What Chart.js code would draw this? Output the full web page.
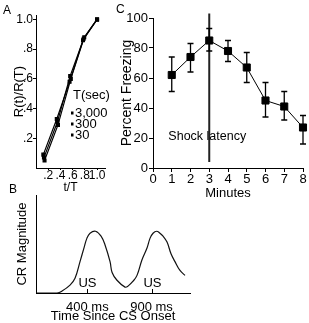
<!DOCTYPE html>
<html>
<head>
<meta charset="utf-8">
<script src="https://cdn.jsdelivr.net/npm/chart.js@4.4.1/dist/chart.umd.min.js"></script>
<style>
body { margin: 0; background: #fff; }
#wrap { position: relative; width: 309px; height: 323px; overflow: hidden; background: #fff;
        font-family: "Liberation Sans", Arial, sans-serif; color: #000; }
canvas { position: absolute; }
.panel { position: absolute; font-size: 12px; line-height: 12px; }
</style>
</head>
<body>
<div id="wrap">
  <canvas id="chartA" width="112" height="194" style="left:0;top:0"></canvas>
  <canvas id="chartB" width="200" height="138" style="left:0;top:185px"></canvas>
  <canvas id="chartC" width="199" height="200" style="left:110px;top:0"></canvas>
  <span class="panel" style="left:3px;top:4px">A</span>
  <span class="panel" style="left:9px;top:183px">B</span>
  <span class="panel" style="left:116px;top:3px">C</span>
</div>
<script>
// Panel A: R(t)/R(T) vs t/T for three T values
const seriesNames = ['3,000', '300', '30'];
const tOverT = [
    [0.13, 0.35, 0.56, 0.78, 1.0],
    [0.12, 0.34, 0.55, 0.77, 1.0],
    [0.14, 0.36, 0.57, 0.79, 1.0]
];
const rRatio = [
    [0.07, 0.31, 0.62, 0.87, 1.0],
    [0.09, 0.33, 0.58, 0.86, 1.0],
    [0.05, 0.29, 0.60, 0.88, 1.0]
];
const aTicks = [0.2, 0.4, 0.6, 0.8, 1.0];
const aTickLabels = ['.2', '.4', '.6', '.8', '1.0'];

// Panel B: CR magnitude vs time since CS onset
const timeMs = [0, 164, 203, 265, 304, 343, 374, 397, 421, 464, 507, 538, 577, 593, 631, 694, 717, 756, 787, 826, 865, 889, 912, 940, 966, 990, 1021, 1052, 1083, 1122, 1161];
const crMag = [0, 0, 0.02, 0.08, 0.15, 0.32, 0.46, 0.56, 0.61, 0.63, 0.58, 0.49, 0.32, 0.21, 0.13, 0.06, 0.07, 0.12, 0.18, 0.34, 0.46, 0.56, 0.61, 0.63, 0.61, 0.58, 0.52, 0.40, 0.32, 0.23, 0.18];
const usTimes = [400, 900];
const usTickLabels = ['400 ms', '900 ms'];

// Panel C: percent freezing by minute
const minutes = [1, 2, 3, 4, 5, 6, 7, 8];
const freezing = [62, 74, 85, 78, 67, 45, 41, 27];
const errUpper = [74, 83, 93, 85, 77, 57, 51, 35];
const errLower = [51, 64, 78, 71, 57, 34, 32, 16];
const shockMinute = 3;
const shockSpan = [4, 103];
const cTicksX = [0, 1, 2, 3, 4, 5, 6, 7, 8];
const cTicksY = [0, 20, 40, 60, 80, 100];

const FONT = '"Liberation Sans", Arial, sans-serif';
Chart.defaults.font.family = FONT;
Chart.defaults.color = '#000';

function setTicks(values) {
    return function (scale) {
        scale.ticks = values.map(v => ({ value: v }));
    };
}

// ---- A ----
const legendA = {
    id: 'legendA',
    afterDraw(chart) {
        const ctx = chart.ctx;
        ctx.save();
        ctx.fillStyle = '#000';
        ctx.font = '13px ' + FONT;
        ctx.textBaseline = 'middle';
        ctx.fillText('T(sec)', 73, 95);
        chart.data.datasets.forEach((ds, i) => {
            const y = 113 + i * 11;
            ctx.fillRect(71, y - 1.5, 2.5, 3);
            ctx.fillText(ds.label, 75, y);
        });
        ctx.restore();
    }
};

new Chart(document.getElementById('chartA'), {
    type: 'line',
    data: {
        datasets: seriesNames.map((name, i) => ({
            label: name,
            data: tOverT[i].map((x, j) => ({ x: x, y: rRatio[i][j] })),
            borderColor: '#000',
            backgroundColor: '#000',
            borderWidth: 1.2,
            pointStyle: 'rect',
            pointRadius: 2,
            tension: 0
        }))
    },
    options: {
        responsive: false,
        animation: false,
        layout: { padding: { left: 13, right: 7, top: 15, bottom: 0 } },
        plugins: { legend: { display: false }, tooltip: { enabled: false } },
        scales: {
            x: {
                type: 'linear', min: 0, max: 1.13,
                afterBuildTicks: setTicks(aTicks),
                afterFit: s => { s.height = 26; },
                ticks: { autoSkip: false, maxRotation: 0, padding: 0, font: { size: 12, lineHeight: 1 },
                    callback: (v, i) => aTickLabels[i] },
                grid: { drawOnChartArea: false, tickLength: 2, color: '#000' },
                border: { color: '#000' },
                title: { display: true, text: 't/T', padding: 0, font: { size: 12, lineHeight: 1 } }
            },
            y: {
                min: 0, max: 1.03,
                afterBuildTicks: setTicks(aTicks),
                afterFit: s => { s.width = 23; },
                ticks: { padding: 0, font: { size: 12, lineHeight: 1 },
                    callback: (v, i) => aTickLabels[i] },
                grid: { drawOnChartArea: false, tickLength: 3, color: '#000' },
                border: { color: '#000' },
                title: { display: true, text: 'R(t)/R(T)', padding: 0, font: { size: 13, lineHeight: 1 } }
            }
        }
    },
    plugins: [legendA]
});

// ---- B ----
const usMarks = {
    id: 'usMarks',
    afterDraw(chart) {
        const ctx = chart.ctx;
        const xs = chart.scales.x;
        const bottom = chart.chartArea.bottom;
        ctx.save();
        ctx.strokeStyle = '#000';
        ctx.lineWidth = 1;
        ctx.fillStyle = '#000';
        ctx.font = '13px ' + FONT;
        ctx.textAlign = 'center';
        ctx.textBaseline = 'middle';
        usTimes.forEach(t => {
            const px = Math.round(xs.getPixelForValue(t)) + 0.5;
            ctx.beginPath();
            ctx.moveTo(px, bottom);
            ctx.lineTo(px, bottom - 4);
            ctx.stroke();
            ctx.fillText('US', px, bottom - 10);
        });
        ctx.restore();
    }
};

new Chart(document.getElementById('chartB'), {
    type: 'line',
    data: {
        datasets: [{
            data: timeMs.map((t, i) => ({ x: t, y: crMag[i] })),
            borderColor: '#111',
            borderWidth: 1.2,
            pointRadius: 0,
            tension: 0.4
        }]
    },
    options: {
        responsive: false,
        animation: false,
        layout: { padding: { left: 16, right: 10, top: 10, bottom: 0 } },
        plugins: { legend: { display: false }, tooltip: { enabled: false } },
        scales: {
            x: {
                type: 'linear', min: 0, max: 1200,
                afterBuildTicks: setTicks(usTimes),
                afterFit: s => { s.height = 30; },
                ticks: { autoSkip: false, maxRotation: 0, padding: 0, font: { size: 13, lineHeight: 1 },
                    callback: (v, i) => usTickLabels[i] },
                grid: { display: false },
                border: { color: '#000' },
                title: { display: true, text: 'Time Since CS Onset', padding: 0, font: { size: 13, lineHeight: 1 } }
            },
            y: {
                min: 0, max: 1,
                afterFit: s => { s.width = 20; },
                ticks: { display: false },
                grid: { display: false },
                border: { color: '#000' },
                title: { display: true, text: 'CR Magnitude', padding: 0, font: { size: 13, lineHeight: 1 } }
            }
        }
    },
    plugins: [usMarks]
});

// ---- C ----
const errorBars = {
    id: 'errorBars',
    afterDatasetsDraw(chart) {
        const ctx = chart.ctx;
        const xs = chart.scales.x, ys = chart.scales.y;
        ctx.save();
        ctx.strokeStyle = '#000';
        ctx.lineWidth = 1.3;
        minutes.forEach((m, i) => {
            const px = xs.getPixelForValue(m);
            const hi = ys.getPixelForValue(errUpper[i]);
            const lo = ys.getPixelForValue(errLower[i]);
            ctx.beginPath();
            ctx.moveTo(px, hi); ctx.lineTo(px, lo);
            ctx.moveTo(px - 3, hi); ctx.lineTo(px + 3, hi);
            ctx.moveTo(px - 3, lo); ctx.lineTo(px + 3, lo);
            ctx.stroke();
        });
        ctx.fillStyle = '#000';
        ctx.font = '12.5px ' + FONT;
        ctx.textAlign = 'center';
        ctx.textBaseline = 'middle';
        ctx.fillText('Shock latency', xs.getPixelForValue(shockMinute) - 2, ys.getPixelForValue(21));
        ctx.restore();
    }
};

new Chart(document.getElementById('chartC'), {
    type: 'line',
    data: {
        datasets: [{
            data: minutes.map((m, i) => ({ x: m, y: freezing[i] })),
            borderColor: '#000',
            backgroundColor: '#000',
            borderWidth: 1,
            pointStyle: 'rect',
            pointRadius: 5,
            tension: 0,
            clip: false
        }, {
            data: shockSpan.map(v => ({ x: shockMinute, y: v })),
            borderColor: '#222',
            borderWidth: 2,
            pointRadius: 0,
            clip: false
        }]
    },
    options: {
        responsive: false,
        animation: false,
        layout: { padding: { left: 10, right: 5, top: 18, bottom: 0 } },
        plugins: { legend: { display: false }, tooltip: { enabled: false } },
        scales: {
            x: {
                type: 'linear', min: 0, max: 8,
                afterBuildTicks: setTicks(cTicksX),
                afterFit: s => { s.height = 32; },
                ticks: { autoSkip: false, maxRotation: 0, padding: 1, font: { size: 13, lineHeight: 1 } },
                grid: { drawOnChartArea: false, tickLength: 4, color: '#000' },
                border: { color: '#000' },
                title: { display: true, text: 'Minutes', padding: 0, font: { size: 13, lineHeight: 1 } }
            },
            y: {
                min: 0, max: 100,
                afterBuildTicks: setTicks(cTicksY),
                afterFit: s => { s.width = 33; },
                ticks: { padding: 1, font: { size: 13, lineHeight: 1 } },
                grid: { drawOnChartArea: false, tickLength: 4, color: '#000' },
                border: { color: '#000' },
                title: { display: true, text: 'Percent Freezing', padding: 0, font: { size: 14, lineHeight: 1 } }
            }
        }
    },
    plugins: [errorBars]
});
</script>
</body>
</html>
